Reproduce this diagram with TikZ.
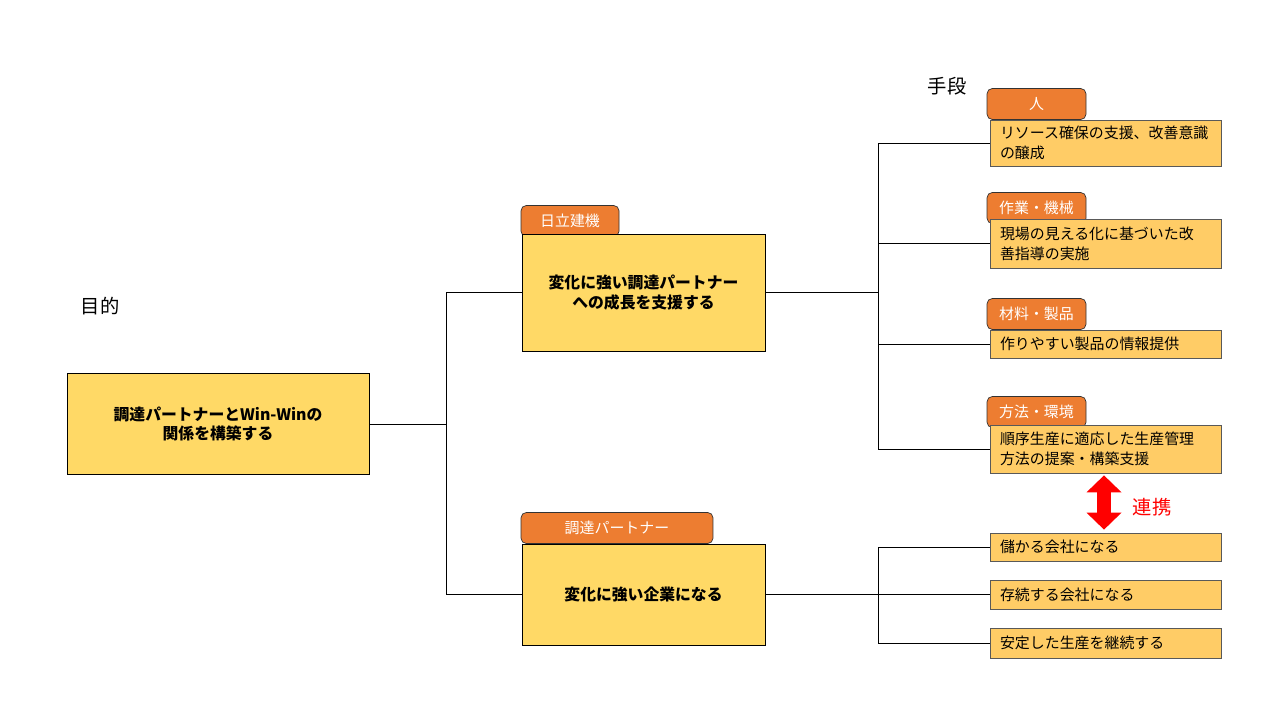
\documentclass[tikz,border=0pt]{standalone}
\usepackage{fontspec}
\setmainfont{Noto Sans CJK JP}
\usetikzlibrary{arrows.meta, positioning}
\definecolor{mGold}{HTML}{FFD966}
\definecolor{mAmber}{HTML}{FFCC66}
\definecolor{mOrange}{HTML}{ED7D31}
\definecolor{mEdge}{HTML}{595959}

\begin{document}
\begin{tikzpicture}[x=0.02cm, y=-0.02cm,
    mainbox/.style={draw, fill=mGold, align=center,
      font=\bfseries\fontsize{9}{11}\selectfont},
    tagbox/.style={draw=black!80, fill=mOrange, rounded corners=3pt, text=white,
      minimum height=0.62cm, font=\fontsize{8.5}{10}\selectfont},
    meansbox/.style={draw=mEdge, fill=mAmber, minimum width=4.62cm, inner xsep=0.2cm,
      text width=4.22cm, align=left, font=\fontsize{8.5}{11.3}\selectfont},
    heading/.style={font=\fontsize{11}{13}\selectfont}]
    \useasboundingbox (0,0) rectangle (1280,720);

    \node[heading] (purpose) at (100,306) {目的};
    \node[heading] (means) at (947,86) {手段};

    \node[mainbox, minimum width=6.04cm, minimum height=2.02cm] (goal) at (218,424)
      {調達パートナーとWin-Winの\\関係を構築する};

    \node[tagbox, minimum width=1.96cm] (tagHitachi) at (570,221) {日立建機};
    \node[tagbox, minimum width=3.84cm] (tagPartner) at (617,528) {調達パートナー};
    \node[mainbox, minimum width=4.86cm, minimum height=2.34cm] (hitachi) at (643.5,292.5)
      {変化に強い調達パートナー\\への成長を支援する};
    \node[mainbox, minimum width=4.86cm, minimum height=2.02cm] (partner) at (643.5,594.5)
      {変化に強い企業になる};

    \foreach \n/\y/\lbl in {1/104/人, 2/208/作業・機械, 3/314/材料・製品, 4/412/方法・環境} {
      \node[tagbox, minimum width=1.98cm] (tag\n) at (1036.5,\y) {\lbl};
    }
    \foreach \n/\y/\h/\txt in {
        1/143/0.92/{リソース確保の支援、改善意識\\の醸成},
        2/243.5/0.98/{現場の見える化に基づいた改\\善指導の実施},
        3/344/0.56/{作りやすい製品の情報提供},
        4/449/0.96/{順序生産に適応した生産管理\\方法の提案・構築支援},
        5/547/0.56/{儲かる会社になる},
        6/594.5/0.58/{存続する会社になる},
        7/643/0.60/{安定した生産を継続する}} {
      \node[meansbox, minimum height=\h cm] (m\n) at (1105.5,\y) {\txt};
    }

    \draw (goal.east) -- ++(77,0) coordinate (j1);
    \draw (j1) |- (hitachi.west);
    \draw (j1) |- (partner.west);
    \draw (hitachi.east) -- ++(113,0) coordinate (j2);
    \foreach \n in {1,...,4} \draw (j2) |- (m\n.west);
    \draw (partner.east) -- ++(113,0) coordinate (j3);
    \foreach \n in {5,6,7} \draw (j3) |- (m\n.west);

    \draw[red, line width=0.28cm,
      {Triangle[width=0.68cm, length=0.34cm]}-{Triangle[width=0.68cm, length=0.34cm]}]
      ([xshift=-0.03cm, yshift=-0.04cm]m4.south) -- ([xshift=-0.03cm, yshift=0.06cm]m5.north);
    \node[red, heading] (link) at (1152,507) {連携};
  \end{tikzpicture}
\end{document}
